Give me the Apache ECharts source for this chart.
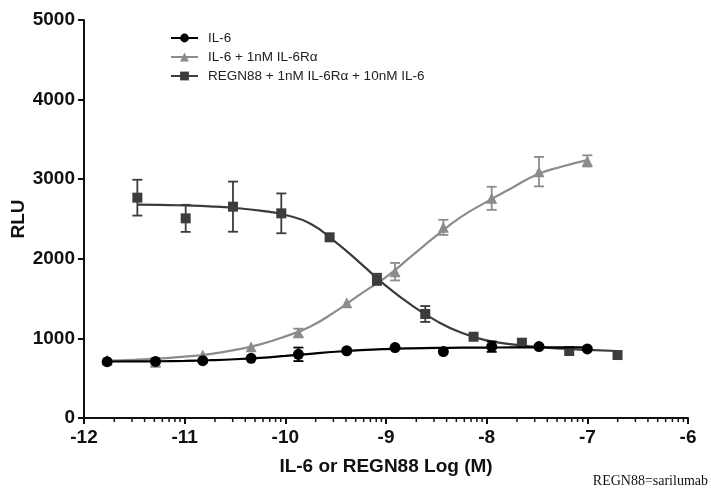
<!DOCTYPE html>
<html>
<head>
<meta charset="utf-8">
<script src="https://cdn.jsdelivr.net/npm/echarts@6/dist/echarts.min.js"></script>
<style>
  html, body { margin: 0; padding: 0; background: #fff; }
  #main { width: 711px; height: 490px; }
</style>
</head>
<body>
<div id="main"></div>
<script>
// dose positions, log10(M)
var il6Dose = [-11.77, -11.29, -10.82, -10.34, -9.87, -9.39, -8.91, -8.43, -7.95, -7.48, -7.0]
var regnDose = [-11.47, -10.99, -10.52, -10.04, -9.56, -9.09, -8.61, -8.13, -7.65, -7.18, -6.7]

// measured RLU
var il6Val = [708, 710, 720, 750, 800, 845, 885, 835, 896, 898, 868]
var il6Err = [0, 0, 0, 0, 85, 0, 0, 0, 65, 0, 0]
var rAlphaVal = [730, 700, 791, 896, 1072, 1449, 1838, 2395, 2760, 3095, 3230]
var rAlphaErr = [0, 50, 0, 0, 50, 0, 110, 95, 145, 185, 70]
var regnVal = [2768, 2508, 2655, 2571, 2270, 1742, 1307, 1021, 946, 842, 791]
var regnErr = [225, 170, 315, 250, 0, 70, 100, 0, 0, 0, 0]

// fitted curves
var il6Fit = [[-11.77, 710], [-11.5, 711], [-11.25, 713], [-11.0, 718], [-10.75, 726], [-10.5, 738],
  [-10.25, 756], [-10.0, 780], [-9.75, 806], [-9.5, 832], [-9.25, 852], [-9.0, 866], [-8.75, 875],
  [-8.5, 880], [-8.25, 883], [-8.0, 885], [-7.75, 886], [-7.5, 886], [-7.25, 886], [-7.0, 886]]
var rAlphaFit = [[-11.77, 720], [-11.5, 732], [-11.25, 748], [-11.0, 770], [-10.75, 803], [-10.5, 855],
  [-10.25, 925], [-10.0, 1025], [-9.75, 1150], [-9.5, 1340], [-9.25, 1560], [-9.0, 1770], [-8.75, 2030],
  [-8.5, 2290], [-8.25, 2530], [-8.0, 2715], [-7.75, 2890], [-7.5, 3060], [-7.25, 3160], [-7.0, 3240]]
var regnFit = [[-11.47, 2680], [-11.25, 2678], [-11.0, 2670], [-10.75, 2658], [-10.5, 2638], [-10.25, 2605],
  [-10.0, 2550], [-9.75, 2440], [-9.5, 2210], [-9.25, 1940], [-9.0, 1660], [-8.75, 1420], [-8.5, 1220],
  [-8.25, 1070], [-8.0, 975], [-7.75, 925], [-7.5, 893], [-7.25, 870], [-7.0, 855], [-6.71, 842]]

var seriesNames = ['IL-6', 'IL-6 + 1nM IL-6R\u03b1', 'REGN88 + 1nM IL-6R\u03b1 + 10nM IL-6']

var cBlack = '#000000'
var cGray = '#8c8c8c'
var cDark = '#3c3c3c'

function pts(xs, ys) {
  return xs.map(function (x, i) { return [x, ys[i]] })
}

function bars(xs, ys, es) {
  var out = []
  for (var i = 0; i < xs.length; i++) {
    if (es[i] > 0) out.push([xs[i], ys[i] - es[i], ys[i] + es[i]])
  }
  return out
}

// minor ticks of the log axis (2..9 in each decade)
var minorTicks = []
for (var d = -12; d < -6; d++) {
  for (var k = 2; k <= 9; k++) minorTicks.push([d + Math.log10(k), 0])
}

function errorBar(color) {
  return function (params, api) {
    var top = api.coord([api.value(0), api.value(2)])
    var bot = api.coord([api.value(0), api.value(1)])
    var w = 5
    var st = { stroke: color, lineWidth: 1.8 }
    return {
      type: 'group',
      children: [
        { type: 'line', shape: { x1: top[0], y1: top[1], x2: bot[0], y2: bot[1] }, style: st },
        { type: 'line', shape: { x1: top[0] - w, y1: top[1], x2: top[0] + w, y2: top[1] }, style: st },
        { type: 'line', shape: { x1: bot[0] - w, y1: bot[1], x2: bot[0] + w, y2: bot[1] }, style: st }
      ]
    }
  }
}

var myChart = echarts.init(document.getElementById('main'))

var bold = { fontFamily: 'Liberation Sans', fontWeight: 'bold', fontSize: 19, color: '#111' }

var option = {
  animation: false,
  grid: { left: 84, right: 23, top: 20, bottom: 72, outerBoundsMode: 'none' },
  legend: {
    orient: 'vertical',
    left: 165,
    top: 26,
    itemGap: 5,
    itemWidth: 27,
    itemHeight: 11,
    data: seriesNames,
    textStyle: { fontFamily: 'Liberation Sans', fontSize: 13.5, color: '#222', padding: [0, 0, 0, 5] }
  },
  xAxis: {
    type: 'value',
    min: -12,
    max: -6,
    interval: 1,
    name: 'IL-6 or REGN88 Log (M)',
    nameLocation: 'middle',
    nameGap: 39,
    nameMoveOverlap: false,
    nameTextStyle: bold,
    axisLine: { lineStyle: { color: '#111', width: 2 } },
    axisTick: { length: 6, lineStyle: { color: '#111', width: 2 } },
    axisLabel: Object.assign({ margin: 10 }, bold),
    splitLine: { show: false }
  },
  yAxis: {
    type: 'value',
    min: 0,
    max: 5000,
    interval: 1000,
    name: 'RLU',
    nameLocation: 'middle',
    nameGap: 56,
    nameMoveOverlap: false,
    nameTextStyle: bold,
    axisLine: { show: true, lineStyle: { color: '#111', width: 2 } },
    axisTick: { show: true, length: 6, lineStyle: { color: '#111', width: 2 } },
    axisLabel: Object.assign({ margin: 9, formatter: function (v) { return String(v) } }, bold),
    splitLine: { show: false }
  },
  graphic: [
    {
      type: 'text',
      right: 3,
      top: 474,
      style: { text: 'REGN88=sarilumab', font: '14px "Liberation Serif"', fill: '#111' }
    }
  ],
  series: [
    // fitted curves (these carry the legend icons)
    {
      name: seriesNames[0], type: 'line', data: il6Fit, smooth: 0.5,
      symbol: 'circle', symbolSize: 10, showSymbol: false, z: 6,
      itemStyle: { color: cBlack }, lineStyle: { color: cBlack, width: 2.2 }
    },
    {
      name: seriesNames[1], type: 'line', data: rAlphaFit, smooth: 0.5,
      symbol: 'triangle', symbolSize: 10, showSymbol: false, z: 2,
      itemStyle: { color: cGray }, lineStyle: { color: cGray, width: 2.2 }
    },
    {
      name: seriesNames[2], type: 'line', data: regnFit, smooth: 0.5,
      symbol: 'rect', symbolSize: 10, showSymbol: false, z: 4,
      itemStyle: { color: cDark }, lineStyle: { color: cDark, width: 2.2 }
    },
    // measured points
    {
      name: seriesNames[0], type: 'scatter', data: pts(il6Dose, il6Val),
      symbol: 'circle', symbolSize: 11, z: 7, itemStyle: { color: cBlack, opacity: 1 }
    },
    {
      name: seriesNames[1], type: 'scatter', data: pts(il6Dose, rAlphaVal),
      symbol: 'triangle', symbolSize: 11, z: 3, itemStyle: { color: cGray, opacity: 1 }
    },
    {
      name: seriesNames[2], type: 'scatter', data: pts(regnDose, regnVal),
      symbol: 'rect', symbolSize: 10, z: 5, itemStyle: { color: cDark, opacity: 1 }
    },
    // error bars
    { name: seriesNames[0], type: 'custom', data: bars(il6Dose, il6Val, il6Err), renderItem: errorBar(cBlack), z: 7 },
    { name: seriesNames[1], type: 'custom', data: bars(il6Dose, rAlphaVal, rAlphaErr), renderItem: errorBar(cGray), z: 3 },
    { name: seriesNames[2], type: 'custom', data: bars(regnDose, regnVal, regnErr), renderItem: errorBar(cDark), z: 5 },
    // log minor ticks
    {
      type: 'custom',
      data: minorTicks,
      silent: true,
      renderItem: function (params, api) {
        var p = api.coord([api.value(0), 0])
        return {
          type: 'line',
          shape: { x1: p[0], y1: p[1], x2: p[0], y2: p[1] + 4 },
          style: { stroke: '#111', lineWidth: 1.5 }
        }
      },
      z: 1
    }
  ]
}

myChart.setOption(option)
</script>
</body>
</html>
